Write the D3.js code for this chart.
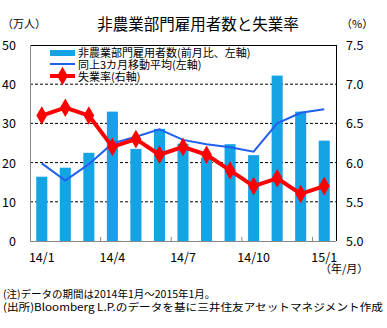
<!DOCTYPE html>
<html>
<head>
<meta charset="utf-8">
<script src="https://cdn.jsdelivr.net/npm/d3@7"></script>
<style>
    body { margin: 0; background: #fff; }
    text { font-family: "Noto Sans CJK JP", sans-serif; fill: #000; }
</style>
</head>
<body>
<script>
// Data
var months = ["14/1", "14/2", "14/3", "14/4", "14/5", "14/6", "14/7",
    "14/8", "14/9", "14/10", "14/11", "14/12", "15/1"];
var payrolls = [16.4, 18.7, 22.5, 33.0, 23.5, 28.6, 24.8,
    21.3, 24.7, 21.9, 42.2, 33.0, 25.6];
var movingAvg = [19.8, 15.4, 19.6, 24.9, 26.6, 28.5, 25.8,
    24.7, 23.9, 22.8, 30.0, 32.7, 33.6];
var unemployment = [6.6, 6.7, 6.6, 6.2, 6.3, 6.1, 6.2,
    6.1, 5.9, 5.7, 5.8, 5.6, 5.7];
var xLabels = ["14/1", "14/4", "14/7", "14/10", "15/1"];
var leftTicks = [0, 10, 20, 30, 40, 50];
var rightTicks = [5.0, 5.5, 6.0, 6.5, 7.0, 7.5];

var plot = {left: 30, right: 336, top: 45, bottom: 241};

var svg = d3.select("body").append("svg")
    .attr("width", 387)
    .attr("height", 328);

var x = d3.scaleBand()
    .domain(months)
    .range([plot.left, plot.right])
    .paddingInner(0.53)
    .paddingOuter(0.265);
var yL = d3.scaleLinear().domain([0, 50]).range([plot.bottom, plot.top]);
var yR = d3.scaleLinear().domain([5, 7.5]).range([plot.bottom, plot.top]);
var cx = function(m) { return x(m) + x.bandwidth() / 2; };

// Title and unit labels
svg.append("text").attr("x", 198).attr("y", 30)
    .attr("text-anchor", "middle").style("font-size", "15.5px")
    .text("非農業部門雇用者数と失業率");
svg.append("text").attr("x", 2).attr("y", 28).style("font-size", "11px")
    .text("（万人）");
svg.append("text").attr("x", 341).attr("y", 28).style("font-size", "11px")
    .text("（%）");

// Grid lines (dashed)
svg.selectAll(".grid")
    .data(leftTicks.filter(function(d) { return d > 0 && d < 50; }))
    .enter().append("line")
    .attr("x1", plot.left).attr("x2", plot.right)
    .attr("y1", function(d) { return yL(d); })
    .attr("y2", function(d) { return yL(d); })
    .attr("stroke", "#000").attr("stroke-width", 1)
    .attr("stroke-dasharray", "3,2");

// Bars
svg.selectAll(".bar").data(payrolls).enter().append("rect")
    .attr("x", function(d, i) { return x(months[i]); })
    .attr("y", function(d) { return yL(d); })
    .attr("width", x.bandwidth())
    .attr("height", function(d) { return yL(0) - yL(d); })
    .attr("fill", "#14a3e4");

// Frame: top and right black, left and bottom gray
svg.append("line").attr("x1", plot.left).attr("x2", plot.right)
    .attr("y1", plot.top + 0.5).attr("y2", plot.top + 0.5)
    .attr("stroke", "#000");
svg.append("line").attr("x1", plot.right + 0.5).attr("x2", plot.right + 0.5)
    .attr("y1", plot.top).attr("y2", plot.bottom)
    .attr("stroke", "#000");
svg.append("line").attr("x1", plot.left + 0.5).attr("x2", plot.left + 0.5)
    .attr("y1", plot.top).attr("y2", plot.bottom)
    .attr("stroke", "#888");
svg.append("line").attr("x1", plot.left).attr("x2", plot.right)
    .attr("y1", plot.bottom + 0.5).attr("y2", plot.bottom + 0.5)
    .attr("stroke", "#888");

// Inward ticks every 3 months at band boundaries
svg.selectAll(".xtick").data([3, 6, 9, 12]).enter().append("line")
    .attr("x1", function(i) { return cx(months[i]) - x.step() / 2; })
    .attr("x2", function(i) { return cx(months[i]) - x.step() / 2; })
    .attr("y1", plot.bottom).attr("y2", plot.bottom - 4)
    .attr("stroke", "#888");

// Moving average line
svg.append("path").datum(movingAvg)
    .attr("fill", "none").attr("stroke", "#2060f0").attr("stroke-width", 2)
    .attr("d", d3.line()
        .x(function(d, i) { return cx(months[i]); })
        .y(function(d) { return yL(d); }));

// Unemployment rate line with markers
svg.append("path").datum(unemployment)
    .attr("fill", "none").attr("stroke", "#ff0000").attr("stroke-width", 4)
    .attr("stroke-linejoin", "round")
    .attr("d", d3.line()
        .x(function(d, i) { return cx(months[i]); })
        .y(function(d) { return yR(d); }));
var marker = d3.symbol().type(d3.symbolDiamond).size(100);
svg.selectAll(".mk").data(unemployment).enter().append("path")
    .attr("d", marker)
    .attr("transform", function(d, i) {
        return "translate(" + cx(months[i]) + "," + yR(d) + ")";
    })
    .attr("fill", "#ff0000");

// Axis labels
svg.selectAll(".yl").data(leftTicks).enter().append("text")
    .attr("x", 16).attr("y", function(d) { return yL(d) + 5; })
    .attr("text-anchor", "end").style("font-size", "12.5px")
    .text(function(d) { return d; });
svg.selectAll(".yr").data(rightTicks).enter().append("text")
    .attr("x", 346).attr("y", function(d) { return yR(d) + 5; })
    .style("font-size", "12.5px")
    .text(function(d) { return d.toFixed(1); });
svg.selectAll(".xl").data(xLabels).enter().append("text")
    .attr("x", function(d) { return cx(d); }).attr("y", 262)
    .attr("text-anchor", "middle").style("font-size", "12.5px")
    .text(function(d) { return d; });
svg.append("text").attr("x", 320).attr("y", 273).style("font-size", "11px")
    .text("（年/月）");

// Legend
var legend = svg.append("g");
legend.append("rect").attr("x", 50).attr("y", 50)
    .attr("width", 25).attr("height", 6).attr("fill", "#14a3e4");
legend.append("line").attr("x1", 50).attr("x2", 75)
    .attr("y1", 64).attr("y2", 64)
    .attr("stroke", "#2060f0").attr("stroke-width", 2);
legend.append("line").attr("x1", 50).attr("x2", 75)
    .attr("y1", 76).attr("y2", 76)
    .attr("stroke", "#ff0000").attr("stroke-width", 4);
legend.append("path").attr("d", marker)
    .attr("transform", "translate(62.5,76)").attr("fill", "#ff0000");
var legendText = ["非農業部門雇用者数(前月比、左軸)",
    "同上3カ月移動平均(左軸)", "失業率(右軸)"];
legend.selectAll(".lt").data(legendText).enter().append("text")
    .attr("x", 78).attr("y", function(d, i) { return 56.5 + i * 12; })
    .style("font-size", "11px")
    .text(function(d) { return d; });

// Notes
svg.append("text").attr("x", 3).attr("y", 298).style("font-size", "10.5px")
    .text("(注)データの期間は2014年1月～2015年1月。");
svg.append("text").attr("x", 3).attr("y", 311).style("font-size", "10.5px")
    .attr("textLength", 380).attr("lengthAdjust", "spacingAndGlyphs")
    .text("(出所)Bloomberg L.P.のデータを基に三井住友アセットマネジメント作成");
</script>
</body>
</html>
